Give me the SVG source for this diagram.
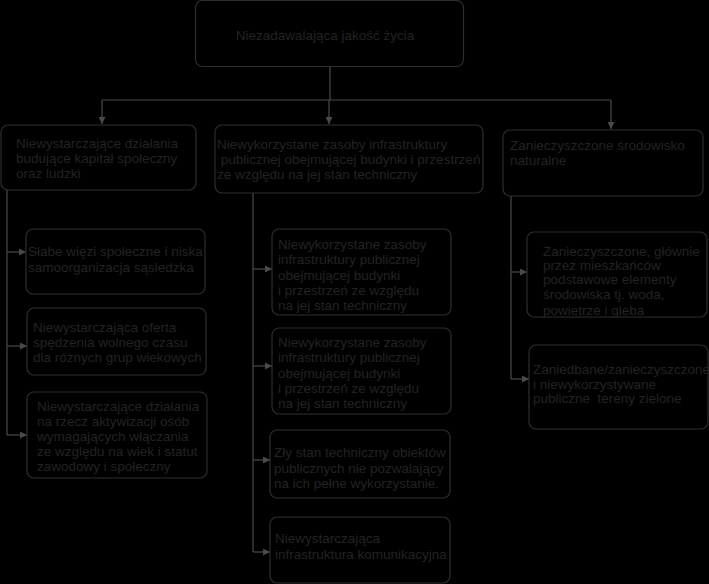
<svg xmlns="http://www.w3.org/2000/svg" width="709" height="584" viewBox="0 0 709 584">
<defs>
<marker id="ah" viewBox="0 0 10 10" refX="10" refY="5" markerWidth="7" markerHeight="7" markerUnits="userSpaceOnUse" orient="auto">
<path d="M0,0 L10,5 L0,10 z" fill="#4a4a4a"/>
</marker>
<style>
.box{fill:#000;stroke:#2e2e2e;stroke-width:1.2}
.t{font-family:"Liberation Sans",Arial,sans-serif;font-size:13.5px;fill:#232323}
.c{fill:none;stroke:#4a4a4a;stroke-width:1.2}
.a{fill:none;stroke:#4a4a4a;stroke-width:1.2;marker-end:url(#ah)}
</style>
</defs>
<rect width="709" height="584" fill="#000"/>
<g id="connectors">
<path class="c" d="M330,67 V100 M102,100 H611"/>
<path class="a" d="M102,100 V124"/>
<path class="a" d="M329,100 V124"/>
<path class="a" d="M611,100 V129"/>
<path class="c" d="M7,190 V435"/>
<path class="a" d="M7,252 H26"/>
<path class="a" d="M7,346 H27"/>
<path class="a" d="M7,435 H27"/>
<path class="c" d="M253,193 V552"/>
<path class="a" d="M253,269 H272"/>
<path class="a" d="M253,366 H272"/>
<path class="a" d="M253,460 H270"/>
<path class="a" d="M253,552 H270"/>
<path class="c" d="M511,196 V379"/>
<path class="a" d="M511,272 H527"/>
<path class="a" d="M511,379 H529"/>
</g>
<g id="n0"><rect class="box" x="195.5" y="0.5" width="268" height="66" rx="7"/>
<text class="t" x="325" y="40" text-anchor="middle">Niezadawalająca jakość życia</text></g>
<g id="nA"><rect class="box" x="1" y="125" width="195" height="65" rx="7"/>
<text class="t" x="16" y="148">Niewystarczające działania</text>
<text class="t" x="16" y="163">budujące kapitał społeczny</text>
<text class="t" x="16" y="178">oraz ludzki</text></g>
<g id="nB"><rect class="box" x="215" y="125" width="268" height="68" rx="7"/>
<text class="t" x="217" y="149">Niewykorzystane zasoby infrastruktury</text>
<text class="t" x="217" y="164" xml:space="preserve"> publicznej obejmującej budynki i przestrzeń</text>
<text class="t" x="217" y="179">ze względu na jej stan techniczny</text></g>
<g id="nC"><rect class="box" x="503" y="130" width="200" height="66" rx="7"/>
<text class="t" x="510" y="150">Zanieczyszczone środowisko</text>
<text class="t" x="510" y="165">naturalne</text></g>
<g id="nA1"><rect class="box" x="26" y="229" width="179" height="65" rx="7"/>
<text class="t" x="28" y="256">Słabe więzi społeczne i niska</text>
<text class="t" x="28" y="272">samoorganizacja sąsiedzka</text></g>
<g id="nA2"><rect class="box" x="27" y="308" width="179" height="67" rx="7"/>
<text class="t" x="33" y="332">Niewystarczająca oferta</text>
<text class="t" x="33" y="347">spędzenia wolnego czasu</text>
<text class="t" x="33" y="362">dla różnych grup wiekowych</text></g>
<g id="nA3"><rect class="box" x="27" y="392" width="180" height="86" rx="7"/>
<text class="t" x="37" y="411">Niewystarczające działania</text>
<text class="t" x="37" y="426">na rzecz aktywizacji osób</text>
<text class="t" x="37" y="441">wymagających włączania</text>
<text class="t" x="37" y="456">ze względu na wiek i statut</text>
<text class="t" x="37" y="471">zawodowy i społeczny</text></g>
<g id="nB1"><rect class="box" x="272" y="229" width="179" height="86" rx="7"/>
<text class="t" x="278" y="249">Niewykorzystane zasoby</text>
<text class="t" x="278" y="264">infrastruktury publicznej</text>
<text class="t" x="278" y="280">obejmującej budynki</text>
<text class="t" x="278" y="295">i przestrzeń ze względu</text>
<text class="t" x="278" y="310">na jej stan techniczny</text></g>
<g id="nB2"><rect class="box" x="272" y="328" width="179" height="86" rx="7"/>
<text class="t" x="278" y="347">Niewykorzystane zasoby</text>
<text class="t" x="278" y="362">infrastruktury publicznej</text>
<text class="t" x="278" y="378">obejmującej budynki</text>
<text class="t" x="278" y="393">i przestrzeń ze względu</text>
<text class="t" x="278" y="408">na jej stan techniczny</text></g>
<g id="nB3"><rect class="box" x="270" y="430" width="180" height="68" rx="7"/>
<text class="t" x="274" y="457">Zły stan techniczny obiektów</text>
<text class="t" x="274" y="473">publicznych nie pozwalający</text>
<text class="t" x="274" y="488">na ich pełne wykorzystanie.</text></g>
<g id="nB4"><rect class="box" x="270" y="517" width="180" height="66" rx="7"/>
<text class="t" x="275" y="543">Niewystarczająca</text>
<text class="t" x="275" y="559">infrastruktura komunikacyjna</text></g>
<g id="nC1"><rect class="box" x="527" y="232" width="180" height="85" rx="7"/>
<text class="t" x="543" y="256">Zanieczyszczone, głównie</text>
<text class="t" x="543" y="270">przez mieszkańców</text>
<text class="t" x="543" y="284">podstawowe elementy</text>
<text class="t" x="543" y="299">środowiska tj. woda,</text>
<text class="t" x="543" y="315">powietrze i gleba</text></g>
<g id="nC2"><rect class="box" x="529" y="345" width="179" height="84" rx="7"/>
<text class="t" x="533" y="374">Zaniedbane/zanieczyszczone</text>
<text class="t" x="533" y="389">i niewykorzystywane</text>
<text class="t" x="533" y="403" xml:space="preserve">publiczne  tereny zielone</text></g>
</svg>
